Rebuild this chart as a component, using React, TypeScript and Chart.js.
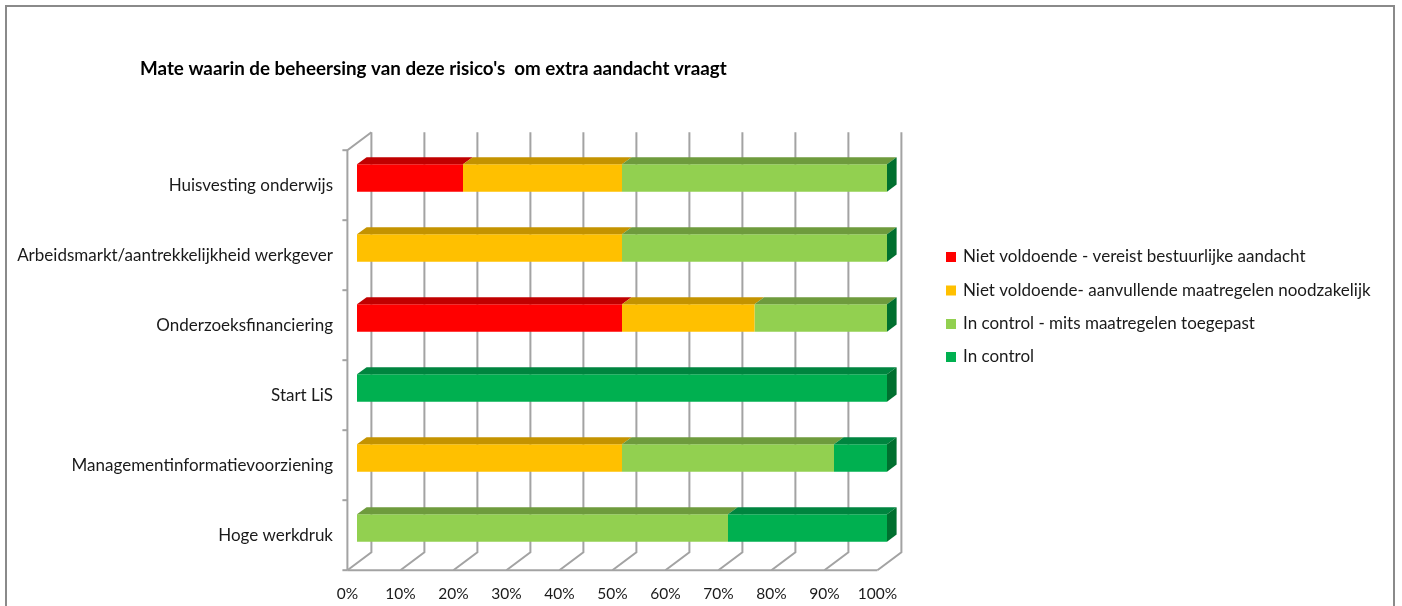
import React, { useEffect, useRef } from "react";
import { Chart, registerables } from "chart.js";

Chart.register(...registerables);

const categories = [
  "Huisvesting onderwijs",
  "Arbeidsmarkt/aantrekkelijkheid werkgever",
  "Onderzoeksfinanciering",
  "Start LiS",
  "Managementinformatievoorziening",
  "Hoge werkdruk",
];

const seriesNames = [
  "Niet voldoende - vereist bestuurlijke aandacht",
  "Niet voldoende- aanvullende maatregelen noodzakelijk",
  "In control - mits maatregelen toegepast",
  "In control",
];

const nietVoldoende = [20, 0, 50, 0, 0, 0];
const aanvullend = [30, 50, 25, 0, 50, 0];
const mitsMaatregelen = [50, 50, 25, 0, 40, 70];
const inControl = [0, 0, 0, 100, 10, 30];

const xTickValues = [0, 10, 20, 30, 40, 50, 60, 70, 80, 90, 100];

const chartTitle = "Mate waarin de beheersing van deze risico's  om extra aandacht vraagt";

const frontColors = ["#FF0000", "#FFC000", "#92D050", "#00B050"];
const topColors = ["#C00000", "#C49300", "#6E9B3D", "#00853F"];
const sideColors = ["#A00000", "#A07800", "#5A8030", "#00702F"];

const FONT = "Lato, 'Open Sans', sans-serif";
const DX = 24;
const DY = -18;
const BAR_D = 0.4; // bar front at 0.4 depth, bar back at 0.8
const TEXT = "#1a1a1a";
const GRID = "#a3a3a3";

const threeD = {
  id: "threeD",
  beforeDraw(chart: any) {
    const ctx = chart.ctx;
    ctx.save();
    ctx.fillStyle = "#ffffff";
    ctx.fillRect(0, 0, chart.width, chart.height);
    ctx.strokeStyle = "#8a8a8a";
    ctx.lineWidth = 2;
    ctx.strokeRect(6, 6, 1388, 800);
    ctx.restore();
  },
  beforeDatasetsDraw(chart: any) {
    const ctx = chart.ctx;
    const xs = chart.scales.x;
    const ys = chart.scales.y;
    const area = chart.chartArea;
    const fOff = { x: -BAR_D * DX, y: -BAR_D * DY };
    const bOff = { x: (1 - BAR_D) * DX, y: (1 - BAR_D) * DY };
    const frontBottom = area.bottom + fOff.y;
    const frontTop = area.top + fOff.y;
    const backTop = area.top + bOff.y;
    const backBottom = area.bottom + bOff.y;
    ctx.save();
    ctx.strokeStyle = GRID;
    ctx.lineWidth = 2;
    ctx.lineCap = "butt";
    xTickValues.forEach((v) => {
      const px = xs.getPixelForValue(v);
      const bx = px + bOff.x;
      const fx = px + fOff.x;
      ctx.beginPath();
      ctx.moveTo(bx, backTop);
      ctx.lineTo(bx, backBottom);
      ctx.lineTo(fx, frontBottom);
      ctx.stroke();
    });
    const x0 = xs.getPixelForValue(0);
    const x100 = xs.getPixelForValue(100);
    ctx.beginPath();
    ctx.moveTo(x0 + fOff.x, frontBottom);
    ctx.lineTo(x100 + fOff.x, frontBottom);
    ctx.stroke();
    ctx.beginPath();
    ctx.moveTo(x0 + bOff.x, backTop);
    ctx.lineTo(x0 + fOff.x, frontTop);
    ctx.lineTo(x0 + fOff.x, frontBottom);
    ctx.stroke();
    const n = categories.length;
    const step = ys.getPixelForValue(1) - ys.getPixelForValue(0);
    for (let i = 0; i <= n; i++) {
      const y = ys.getPixelForValue(0) - step / 2 + i * step + fOff.y;
      ctx.beginPath();
      ctx.moveTo(x0 + fOff.x - 5, y);
      ctx.lineTo(x0 + fOff.x, y);
      ctx.stroke();
    }
    ctx.restore();
  },
  afterDatasetsDraw(chart: any) {
    const ctx = chart.ctx;
    const dx = BAR_D * DX;
    const dy = BAR_D * DY;
    ctx.save();
    const nDs = chart.data.datasets.length;
    for (let d = 0; d < nDs; d++) {
      const meta = chart.getDatasetMeta(d);
      meta.data.forEach((el: any) => {
        const p = el.getProps(["x", "y", "base", "height"], true);
        const top = p.y - p.height / 2;
        const l = Math.min(p.x, p.base);
        const r = Math.max(p.x, p.base);
        if (r - l > 0.5) {
          ctx.fillStyle = topColors[d];
          ctx.beginPath();
          ctx.moveTo(l, top);
          ctx.lineTo(r, top);
          ctx.lineTo(r + dx, top + dy);
          ctx.lineTo(l + dx, top + dy);
          ctx.closePath();
          ctx.fill();
        }
      });
    }
    const last = chart.getDatasetMeta(nDs - 1);
    last.data.forEach((el: any) => {
      const p = el.getProps(["x", "y", "base", "height"], true);
      const top = p.y - p.height / 2;
      const bottom = p.y + p.height / 2;
      const r = Math.max(p.x, p.base);
      ctx.fillStyle = sideColors[nDs - 1];
      ctx.beginPath();
      ctx.moveTo(r, top);
      ctx.lineTo(r + dx, top + dy);
      ctx.lineTo(r + dx, bottom + dy);
      ctx.lineTo(r, bottom);
      ctx.closePath();
      ctx.fill();
    });
    ctx.restore();
  },
  afterDraw(chart: any) {
    const ctx = chart.ctx;
    ctx.save();
    ctx.fillStyle = "#000000";
    ctx.font = `bold 18.8px ${FONT}`;
    ctx.textBaseline = "middle";
    ctx.textAlign = "left";
    ctx.fillText(chartTitle, 140, 69);
    ctx.font = `17px ${FONT}`;
    const legendY = [257, 290.5, 324, 357];
    chart.data.datasets.forEach((ds: any, i: number) => {
      const y = legendY[i];
      ctx.fillStyle = ds.backgroundColor;
      ctx.fillRect(946, y - 5, 10, 10);
      ctx.fillStyle = TEXT;
      ctx.fillText(ds.label, 963, y);
    });
    ctx.restore();
  },
};

export default function App() {
  const ref = useRef<HTMLCanvasElement | null>(null);
  useEffect(() => {
    if (!ref.current) return;
    const series = [nietVoldoende, aanvullend, mitsMaatregelen, inControl];
    const chart = new Chart(ref.current, {
      type: "bar",
      data: {
        labels: categories,
        datasets: series.map((data, i) => ({
          label: seriesNames[i],
          data,
          backgroundColor: frontColors[i],
          borderWidth: 0,
          barPercentage: 0.39,
          categoryPercentage: 1,
        })),
      },
      options: {
        indexAxis: "y",
        animation: false,
        responsive: false,
        devicePixelRatio: 1,
        layout: { padding: { top: 143, right: 515, bottom: 0, left: 0 } },
        plugins: {
          legend: { display: false },
          title: { display: false },
          tooltip: { enabled: false },
        },
        scales: {
          x: {
            type: "linear",
            stacked: true,
            min: 0,
            max: 100,
            position: "bottom",
            afterFit: (s: any) => {
              s.height = 43;
            },
            afterBuildTicks: (s: any) => {
              s.ticks = xTickValues.map((v) => ({ value: v }));
            },
            grid: { display: false, drawTicks: false },
            border: { display: false },
            ticks: {
              padding: 22,
              labelOffset: -BAR_D * DX,
              color: TEXT,
              font: { family: FONT, size: 15.5 },
              callback: (v: any) => `${v}%`,
            },
          },
          y: {
            type: "category",
            stacked: true,
            position: "left",
            afterFit: (s: any) => {
              s.width = 357;
            },
            grid: { display: false, drawTicks: false },
            border: { display: false },
            ticks: {
              padding: 24,
              labelOffset: -BAR_D * DY,
              color: TEXT,
              font: { family: FONT, size: 17 },
            },
          },
        },
      },
      plugins: [threeD],
    });
    return () => chart.destroy();
  }, []);
  return (
    <div style={{ position: "absolute", left: 0, top: 0, width: 1402, height: 606 }}>
      <canvas ref={ref} width={1402} height={606} />
    </div>
  );
}
